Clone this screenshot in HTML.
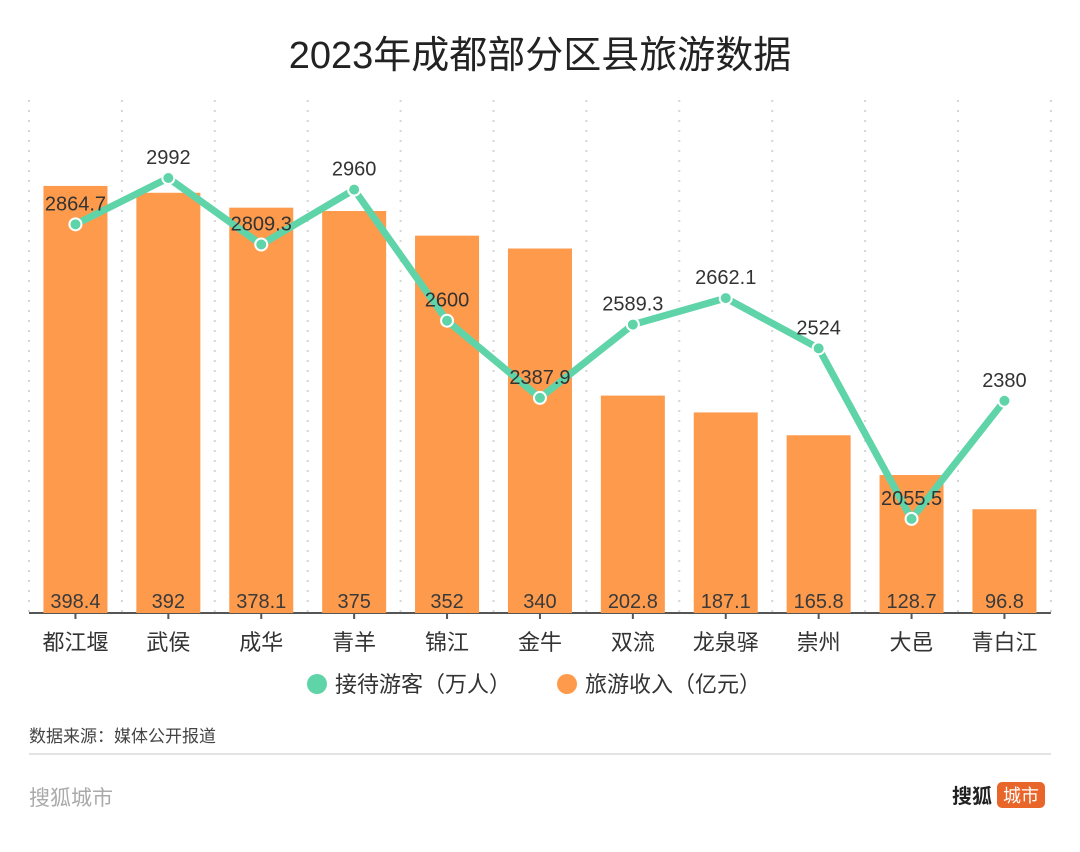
<!DOCTYPE html>
<html><head><meta charset="utf-8"><style>
body{margin:0;width:1080px;height:847px;background:#fff;overflow:hidden;font-family:"Liberation Sans","Noto Sans CJK SC",sans-serif}
</style></head><body>
<svg id="chart" width="1080" height="847" xmlns="http://www.w3.org/2000/svg" font-family="Liberation Sans, Noto Sans CJK SC, sans-serif">
<text x="540" y="68" text-anchor="middle" font-size="38" fill="#222">2023年成都部分区县旅游数据</text>
<g id="grid"></g><g id="bars"></g><g id="line"></g><g id="labels"></g>
<g>
<g><circle cx="317" cy="684" r="10" fill="#5fd4a8"/><text x="335" y="692" font-size="22" fill="#333">接待游客（万人）</text></g>
<g><circle cx="567" cy="684" r="10" fill="#fe9a4c"/><text x="585" y="692" font-size="22" fill="#333">旅游收入（亿元）</text></g>
</g>
<text x="29" y="742" font-size="17" fill="#444">数据来源：媒体公开报道</text>
<line x1="29" y1="754" x2="1051" y2="754" stroke="#e3e3e3" stroke-width="2"/>
<text x="29" y="805" font-size="21" fill="#aaa">搜狐城市</text>
<text x="952" y="803" font-size="20" fill="#222" font-weight="bold">搜狐</text>
<rect x="997" y="782" width="48" height="26" rx="5" fill="#e8662a"/>
<text x="1021" y="802" font-size="18" fill="#fff" text-anchor="middle">城市</text>
</svg>
<script>
const categories=["都江堰","武侯","成华","青羊","锦江","金牛","双流","龙泉驿","崇州","大邑","青白江"];
const revenue=[398.4,392,378.1,375,352,340,202.8,187.1,165.8,128.7,96.8];
const visitors=[2864.7,2992,2809.3,2960,2600,2387.9,2589.3,2662.1,2524,2055.5,2380];
const revenueLabels=["398.4","392","378.1","375","352","340","202.8","187.1","165.8","128.7","96.8"];
const visitorLabels=["2864.7","2992","2809.3","2960","2600","2387.9","2589.3","2662.1","2524","2055.5","2380"];
const NS="http://www.w3.org/2000/svg";
const left=29,step=92.9,base=613;
const xC=i=>left+step*(i+0.5);
const yBar=v=>base-v*1.072;
const yLine=v=>178+(2992-v)*0.364;
function mk(tag,attrs,parent){const e=document.createElementNS(NS,tag);for(const k in attrs)e.setAttribute(k,attrs[k]);document.getElementById(parent).appendChild(e);return e;}
for(let i=0;i<=categories.length;i++){
 const g=mk('line',{x1:left+step*i,x2:left+step*i,y1:100,y2:base,stroke:'#d6d6d6','stroke-width':2,'stroke-dasharray':'2,8'},'grid');
 
 
}
const ax=mk('line',{x1:left,x2:left+step*categories.length,y1:base,y2:base,stroke:'#555','stroke-width':2},'grid');


categories.forEach((c,i)=>{
 const b=mk('rect',{x:xC(i)-32,y:yBar(revenue[i]),width:64,height:base-yBar(revenue[i]),fill:'#fe9a4c'},'bars');
 
 
 const t=mk('line',{x1:xC(i),x2:xC(i),y1:base,y2:base+6,stroke:'#555','stroke-width':2},'grid');
 
 
 const bl=mk('text',{x:xC(i),y:608,'text-anchor':'middle','font-size':20,fill:'#3a3a3a'},'labels');bl.textContent=revenueLabels[i];
 
 
 const cl=mk('text',{x:xC(i),y:650,'text-anchor':'middle','font-size':22,fill:'#333'},'labels');cl.textContent=c;
 
 
});
const pts=visitors.map((v,i)=>xC(i)+','+yLine(v)).join(' ');
const pl=mk('polyline',{points:pts,fill:'none',stroke:'#5fd4a8','stroke-width':7,'stroke-linejoin':'round'},'line');


visitors.forEach((v,i)=>{
 const p=mk('circle',{cx:xC(i),cy:yLine(v),r:6,fill:'#5fd4a8',stroke:'#fff','stroke-width':2},'line');
 
 
 const l=mk('text',{x:xC(i),y:yLine(v)-14,'text-anchor':'middle','font-size':20,fill:'#333'},'labels');l.textContent=visitorLabels[i];
 
 
});
</script>
</body></html>
